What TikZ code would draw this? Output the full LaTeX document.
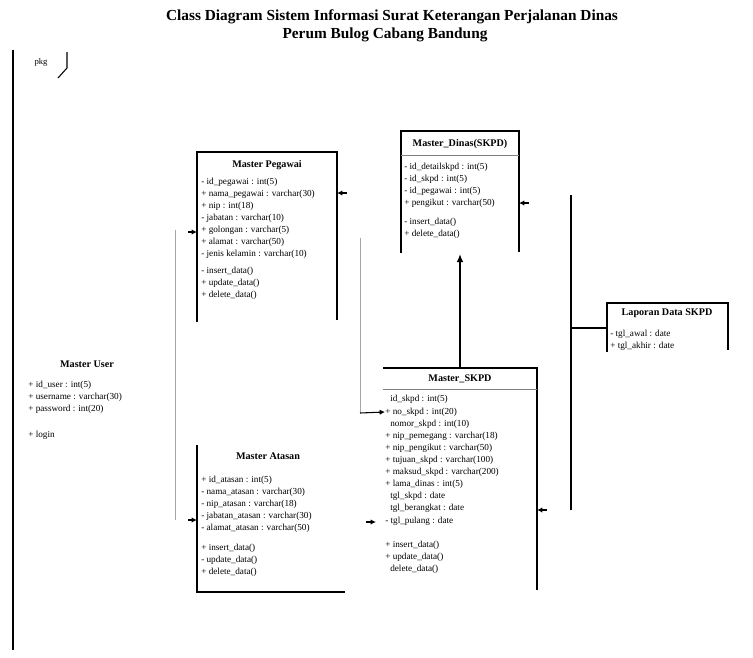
\documentclass[tikz,border=0pt]{standalone}
\usepackage{fontspec}
\setmainfont{Liberation Serif}
\usetikzlibrary{arrows.meta}
\begin{document}
\begin{tikzpicture}[x=0.75pt,y=-0.75pt,
  edge/.style={line width=1.1pt},
  sep/.style={line width=0.5pt, gray},
  faint/.style={line width=0.7pt, gray!70},
  member/.style={anchor=west, inner sep=0pt, font=\fontsize{6.9}{7}\selectfont},
  heading/.style={inner sep=0pt, font=\fontsize{7.6}{8}\selectfont\bfseries},
  titletext/.style={inner sep=0pt, font=\fontsize{11.5}{13}\selectfont\bfseries},
  tip/.style={-{Latex[length=4pt,width=4pt]}, line width=0.8pt}]
\useasboundingbox (0,0) rectangle (753,657);

% title
\node[titletext] (title1) at (392,17) {Class Diagram Sistem Informasi Surat Keterangan Perjalanan Dinas};
\node[titletext] (title2) at (385,35) {Perum Bulog Cabang Bandung};

% package frame
\draw[edge] (13,50) -- (13,650);
\node[inner sep=0pt, font=\fontsize{6.5}{7}\selectfont] (framelabel) at (41,62) {pkg};
\draw[line width=0.8pt] (67,52) -- (67,68) -- (58,78);

% Master Pegawai
\draw[edge] (197,322) -- (197,152) -- (337,152) -- (337,320);
\node[heading] (pgh) at (267,165) {Master Pegawai};
\node[member] (pg1) at (201,182) {- id\_pegawai : int(5)};
\node[member] (pg2) at (201,194) {+ nama\_pegawai : varchar(30)};
\node[member] (pg3) at (201,206) {+ nip : int(18)};
\node[member] (pg4) at (201,218) {- jabatan : varchar(10)};
\node[member] (pg5) at (201,230) {+ golongan : varchar(5)};
\node[member] (pg6) at (201,242) {+ alamat : varchar(50)};
\node[member] (pg7) at (201,254) {- jenis kelamin : varchar(10)};
\node[member] (pg8) at (201,271) {- insert\_data()};
\node[member] (pg9) at (201,283) {+ update\_data()};
\node[member] (pg10) at (201,295) {+ delete\_data()};

% Master Dinas (SKPD detail)
\draw[edge] (401,253) -- (401,131) -- (519,131) -- (519,252);
\node[heading] (dnh) at (460,144) {Master\_Dinas(SKPD)};
\draw[sep] (401,155) -- (519,155);
\node[member] (dn1) at (404,167) {- id\_detailskpd : int(5)};
\node[member] (dn2) at (404,179) {- id\_skpd : int(5)};
\node[member] (dn3) at (404,191) {- id\_pegawai : int(5)};
\node[member] (dn4) at (404,203) {+ pengikut : varchar(50)};
\node[member] (dn5) at (404,222) {- insert\_data()};
\node[member] (dn6) at (404,234) {+ delete\_data()};

% Master SKPD
\draw[edge] (383,368) -- (537,368) -- (537,590);
\node[heading] (skh) at (460,379) {Master\_SKPD};
\draw[sep] (383,389) -- (537,389);
\node[member] (sk1) at (390,399) {id\_skpd : int(5)};
\node[member] (sk2) at (385,412) {+ no\_skpd : int(20)};
\node[member] (sk3) at (390,424) {nomor\_skpd : int(10)};
\node[member] (sk4) at (385,436) {+ nip\_pemegang : varchar(18)};
\node[member] (sk5) at (385,448) {+ nip\_pengikut : varchar(50)};
\node[member] (sk6) at (385,460) {+ tujuan\_skpd : varchar(100)};
\node[member] (sk7) at (385,472) {+ maksud\_skpd : varchar(200)};
\node[member] (sk8) at (385,484) {+ lama\_dinas : int(5)};
\node[member] (sk9) at (390,496) {tgl\_skpd : date};
\node[member] (sk10) at (390,508) {tgl\_berangkat : date};
\node[member] (sk11) at (385,521) {- tgl\_pulang : date};
\node[member] (sk12) at (385,545) {+ insert\_data()};
\node[member] (sk13) at (385,557) {+ update\_data()};
\node[member] (sk14) at (390,569) {delete\_data()};

% Laporan Data SKPD
\draw[edge] (607,352) -- (607,303) -- (728,303) -- (728,350);
\node[heading] (lph) at (667,313) {Laporan Data SKPD};
\node[member] (lp1) at (610,334) {- tgl\_awal : date};
\node[member] (lp2) at (610,346) {+ tgl\_akhir : date};

% Master User
\node[heading] (ush) at (87,364) {Master User};
\node[member] (us1) at (28,385) {+ id\_user : int(5)};
\node[member] (us2) at (28,397) {+ username : varchar(30)};
\node[member] (us3) at (28,409) {+ password : int(20)};
\node[member] (us4) at (28,435) {+ login};

% Master Atasan
\draw[edge] (197,445) -- (197,592) -- (345,592);
\node[heading] (ath) at (268,456) {Master Atasan};
\node[member] (at1) at (201,480) {+ id\_atasan : int(5)};
\node[member] (at2) at (201,492) {- nama\_atasan : varchar(30)};
\node[member] (at3) at (201,504) {- nip\_atasan : varchar(18)};
\node[member] (at4) at (201,516) {- jabatan\_atasan : varchar(30)};
\node[member] (at5) at (201,528) {- alamat\_atasan : varchar(50)};
\node[member] (at6) at (201,548) {+ insert\_data()};
\node[member] (at7) at (201,560) {- update\_data()};
\node[member] (at8) at (201,572) {+ delete\_data()};

% connectors
\coordinate (ulTop) at (175,230);
\coordinate (ulBot) at (175,520);
\draw[faint] (ulTop) -- (ulBot);
\draw[tip] (188,232) -- (197,232);
\draw[tip] (188,520) -- (197,520);
\draw[tip] (347,193) -- (337,193);
\draw[tip] (529,203) -- (519,203);
\draw[tip] (547,510) -- (537,510);
\draw[tip] (366,522) -- (376,522);

\coordinate (pgDrop) at (360,238);
\coordinate (pgBend) at (360,413);
\draw[faint] (pgDrop) -- (pgBend);
\draw[tip] (pgBend) -- (sk2.west);

\draw[edge, -{Latex[length=6pt,width=5pt]}] (460,368) -- (460,254);

\coordinate (rTop) at (571,195);
\coordinate (rBot) at (571,510);
\coordinate (rMid) at (571,328);
\draw[edge] (rTop) -- (rBot);
\draw[edge] (rMid) -- (607,328);
\end{tikzpicture}
\end{document}
